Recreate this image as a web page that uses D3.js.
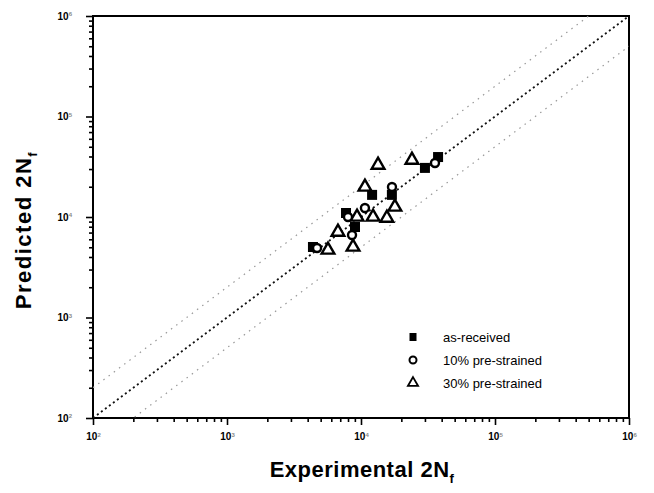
<!DOCTYPE html>
<html>
<head>
<meta charset="utf-8">
<script src="https://cdn.jsdelivr.net/npm/d3@7"></script>
<style>
  body { margin: 0; background: #fff; }
  text { font-family: "Liberation Sans", Arial, sans-serif; }
</style>
</head>
<body>
<div id="chart"></div>
<script>
// values (reversals, log axes)
var asReceivedExp = [37600, 30000, 12100, 17000, 7730, 9020, 4380];
var asReceivedPred = [39500, 30800, 16600, 16600, 10960, 7950, 5030];

var pre10Exp = [35650, 17030, 10700, 8000, 8570, 4700];
var pre10Pred = [34450, 19900, 12300, 10000, 6620, 4920];

var pre30Exp = [13400, 24000, 10700, 17900, 15600, 12300, 9340, 6730, 8720, 5670];
var pre30Pred = [32900, 36900, 19900, 12600, 9770, 10000, 10000, 7090, 5030, 4700];

var majorTicks = [1e2, 1e3, 1e4, 1e5, 1e6];
var tickExponents = ["2", "3", "4", "5", "6"];
var bandFactors = [1, 2, 0.5];
var legendLabels = ["as-received", "10% pre-strained", "30% pre-strained"];

var svgWidth = 654;
var svgHeight = 493;

var margin = {
  top: 16,
  right: 25,
  bottom: 75,
  left: 93
};

var width = svgWidth - margin.left - margin.right;
var height = svgHeight - margin.top - margin.bottom;

var svg = d3.select("#chart")
  .append("svg")
  .attr("width", svgWidth)
  .attr("height", svgHeight);

var chartGroup = svg.append("g")
  .attr("transform", `translate(${margin.left}, ${margin.top})`);

var xScale = d3.scaleLog()
  .domain([1e2, 1e6])
  .range([0, width]);

var yScale = d3.scaleLog()
  .domain([1e2, 1e6])
  .range([height, 0]);

svg.append("defs").append("clipPath")
  .attr("id", "plotclip")
  .append("rect")
  .attr("width", width)
  .attr("height", height);

// minor ticks 2..9 in every decade
var minorTicks = [];
majorTicks.slice(0, -1).forEach(function(m) {
  for (var k = 2; k <= 9; k++) minorTicks.push(m * k);
});

function styleAxis(g) {
  g.select(".domain").remove();
  g.selectAll("line").attr("stroke", "#000").attr("stroke-width", 1.6);
}

chartGroup.append("g")
  .attr("transform", `translate(0, ${height})`)
  .call(d3.axisBottom(xScale).tickValues(minorTicks).tickSize(4).tickFormat(""))
  .call(styleAxis);

chartGroup.append("g")
  .call(d3.axisLeft(yScale).tickValues(minorTicks).tickSize(4).tickFormat(""))
  .call(styleAxis);

var xAxisG = chartGroup.append("g")
  .attr("transform", `translate(0, ${height})`)
  .call(d3.axisBottom(xScale).tickValues(majorTicks).tickSize(7).tickPadding(8).tickFormat(""))
  .call(styleAxis);

var yAxisG = chartGroup.append("g")
  .call(d3.axisLeft(yScale).tickValues(majorTicks).tickSize(7).tickPadding(14).tickFormat(""))
  .call(styleAxis);

// tick labels as 10 with a superscript
function powerLabel(sel) {
  sel.attr("font-size", "10px")
    .attr("font-weight", "bold")
    .attr("fill", "#000")
    .each(function(d, i) {
      var t = d3.select(this);
      t.append("tspan").text("10");
      t.append("tspan").attr("dy", "-0.6em").attr("font-size", "6px").attr("fill", "#888").text(tickExponents[i]);
    });
}

xAxisG.selectAll(".tick text").call(powerLabel);
yAxisG.selectAll(".tick text").call(powerLabel);

// frame
chartGroup.append("rect")
  .attr("width", width)
  .attr("height", height)
  .attr("fill", "none")
  .attr("stroke", "#000")
  .attr("stroke-width", 2);

// y = x and factor-of-2 bands
var lineGen = d3.line()
  .x(d => xScale(d[0]))
  .y(d => yScale(d[1]));

chartGroup.append("g")
  .attr("clip-path", "url(#plotclip)")
  .selectAll("path")
  .data(bandFactors)
  .enter()
  .append("path")
  .attr("d", f => lineGen([[1e2, 1e2 * f], [1e6, 1e6 * f]]))
  .attr("fill", "none")
  .attr("stroke", (f, i) => i === 0 ? "#111" : "#999")
  .attr("stroke-width", (f, i) => i === 0 ? 1.8 : 1.2)
  .attr("stroke-dasharray", (f, i) => i === 0 ? "2,3" : "1.5,5");

// markers
var squares = asReceivedExp.map((v, i) => [v, asReceivedPred[i]]);
var circles = pre10Exp.map((v, i) => [v, pre10Pred[i]]);
var triangles = pre30Exp.map((v, i) => [v, pre30Pred[i]]);

var triPath = d3.symbol().type(d3.symbolTriangle).size(70);

chartGroup.append("g")
  .selectAll("path")
  .data(triangles)
  .enter()
  .append("path")
  .attr("d", triPath)
  .attr("transform", d => `translate(${xScale(d[0])}, ${yScale(d[1])})`)
  .attr("fill", "#fff")
  .attr("stroke", "#000")
  .attr("stroke-width", 2.4);

chartGroup.append("g")
  .selectAll("rect")
  .data(squares)
  .enter()
  .append("rect")
  .attr("x", d => xScale(d[0]) - 5)
  .attr("y", d => yScale(d[1]) - 5)
  .attr("width", 10)
  .attr("height", 10)
  .attr("fill", "#000");

chartGroup.append("g")
  .selectAll("circle")
  .data(circles)
  .enter()
  .append("circle")
  .attr("cx", d => xScale(d[0]))
  .attr("cy", d => yScale(d[1]))
  .attr("r", 4)
  .attr("fill", "#fff")
  .attr("stroke", "#000")
  .attr("stroke-width", 2.4);

// legend
var legend = svg.append("g")
  .attr("transform", "translate(413, 337)");

legendLabels.forEach(function(label, i) {
  var row = legend.append("g").attr("transform", `translate(0, ${i * 23})`);
  if (i === 0) {
    row.append("rect").attr("x", -3.5).attr("y", -4).attr("width", 7).attr("height", 8).attr("fill", "#000");
  } else if (i === 1) {
    row.append("circle").attr("r", 3.5).attr("fill", "#fff").attr("stroke", "#000").attr("stroke-width", 2);
  } else {
    row.append("path").attr("d", d3.symbol().type(d3.symbolTriangle).size(45)).attr("fill", "#fff").attr("stroke", "#000").attr("stroke-width", 1.8);
  }
  row.append("text")
    .attr("x", 30)
    .attr("y", 5)
    .attr("font-size", "13px")
    .attr("fill", "#000")
    .text(label);
});

// axis titles
var xTitle = svg.append("text")
  .attr("x", 362)
  .attr("y", 477)
  .attr("text-anchor", "middle")
  .attr("font-size", "22px")
  .attr("font-weight", "bold")
  .attr("letter-spacing", "0.5px");
xTitle.append("tspan").text("Experimental 2N");
xTitle.append("tspan").attr("dy", "6").attr("font-size", "13px").text("f");

var yTitle = svg.append("text")
  .attr("transform", "translate(31, 230) rotate(-90)")
  .attr("text-anchor", "middle")
  .attr("font-size", "22px")
  .attr("font-weight", "bold")
  .attr("letter-spacing", "1.5px");
yTitle.append("tspan").text("Predicted 2N");
yTitle.append("tspan").attr("dy", "6").attr("font-size", "13px").text("f");
</script>
</body>
</html>
